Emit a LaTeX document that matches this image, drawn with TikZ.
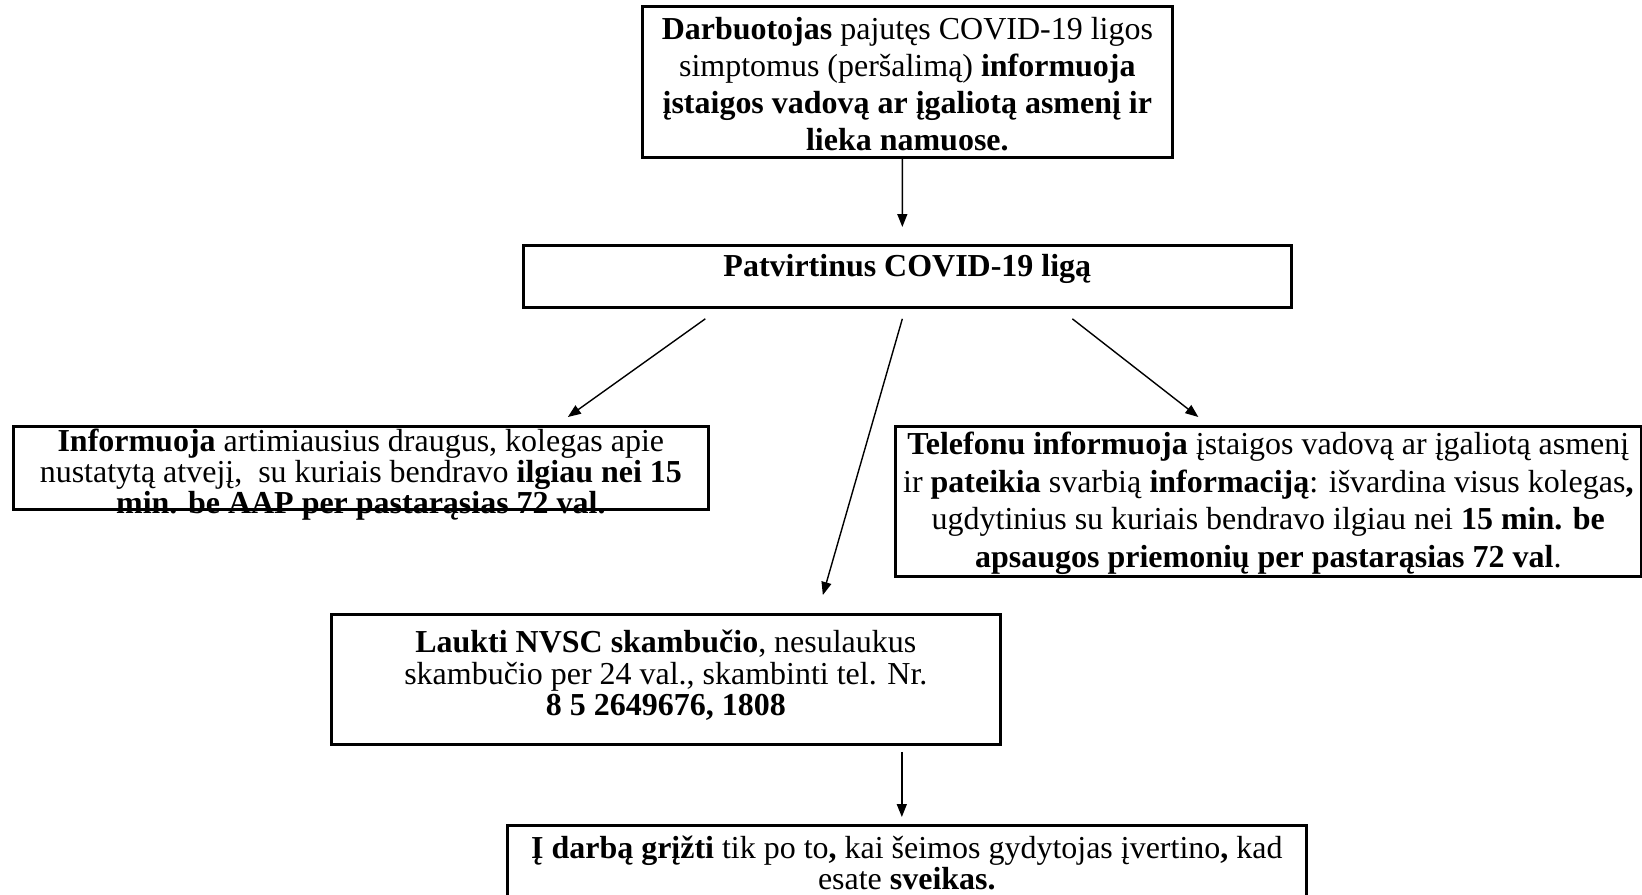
\documentclass[tikz,border=0pt]{standalone}
\usepackage{fontspec}
\setmainfont{Liberation Serif}
\usepackage{tikz}
\usetikzlibrary{arrows.meta,%
                calc}

\newcommand{\boxtext}[5]{\parbox[t][#2][t]{#1}{\fontsize{18.2}{#4}\selectfont\centering\rule{0pt}{#3}#5}}

\begin{document}
\begin{tikzpicture}[x=0.02cm,y=-0.02cm]
  \tikzstyle{BoxStyle}=[draw,line width=1.6pt,inner sep=0pt,anchor=north west]
  \tikzstyle{EdgeStyle}=[line width=0.8pt,-{Triangle[length=0.26cm,width=0.2cm]}]

  \clip (0,0) rectangle (1642,894);

  \node[BoxStyle] (Sympt) at (641,5) {\boxtext{10.6cm}{3.02cm}{0.66cm}{21pt}{%
    \textbf{Darbuotojas} pajutęs COVID-19 ligos\\
    simptomus (peršalimą) \textbf{informuoja}\\
    \textbf{įstaigos vadovą ar įgaliotą asmenį ir}\\
    \textbf{lieka namuose.}}};
  \node[BoxStyle] (Confirm) at (522,244) {\boxtext{15.36cm}{1.24cm}{0.62cm}{18pt}{%
    \textbf{Patvirtinus COVID-19 ligą}}};
  \node[BoxStyle] (Friends) at (12,425) {\boxtext{13.9cm}{1.66cm}{0.5cm}{15pt}{%
    \textbf{Informuoja} artimiausius draugus, kolegas apie\\
    nustatytą atvejį,\ \ su kuriais bendravo \textbf{ilgiau nei 15}\\
    \textbf{min. be AAP per pastarąsias 72 val.}}};
  \node[BoxStyle] (Phone) at (894,425) {\boxtext{14.92cm}{3.0cm}{0.56cm}{21.5pt}{%
    \textbf{Telefonu informuoja} įstaigos vadovą ar įgaliotą asmenį\\
    ir \textbf{pateikia} svarbią \textbf{informaciją}: išvardina visus kolegas\textbf{,}\\
    ugdytinius su kuriais bendravo ilgiau nei \textbf{15 min. be}\\
    \textbf{apsaugos priemonių per pastarąsias 72 val}.}};
  \node[BoxStyle] (Wait) at (330,613) {\boxtext{13.38cm}{2.6cm}{0.76cm}{18pt}{%
    \textbf{Laukti NVSC skambučio}, nesulaukus\\
    skambučio per 24 val., skambinti tel. Nr.\\
    \textbf{8 5 2649676, 1808}}};
  \node[BoxStyle] (Return) at (506,824) {\boxtext{15.98cm}{1.9cm}{0.66cm}{16.5pt}{%
    \textbf{Į darbą grįžti} tik po to\textbf{,} kai šeimos gydytojas įvertino\textbf{,} kad\\
    esate \textbf{sveikas.}}};

  \draw[EdgeStyle] ($(Sympt.south)+(-5,0)$) -- ($(Confirm.north)+(-5,-17)$);
  \draw[EdgeStyle] ($(Confirm.south)+(-202,10)$) -- ($(Friends.north)+(207,-8)$);
  \draw[EdgeStyle] ($(Confirm.south)+(-5,10)$) -- ($(Wait.north)+(157,-18)$);
  \draw[EdgeStyle] ($(Confirm.south)+(165,10)$) -- ($(Phone.north)+(-70,-8)$);
  \draw[EdgeStyle] ($(Wait.south -| Return.north)+(-5,6)$) -- ($(Return.north)+(-5,-7)$);
\end{tikzpicture}
\end{document}
